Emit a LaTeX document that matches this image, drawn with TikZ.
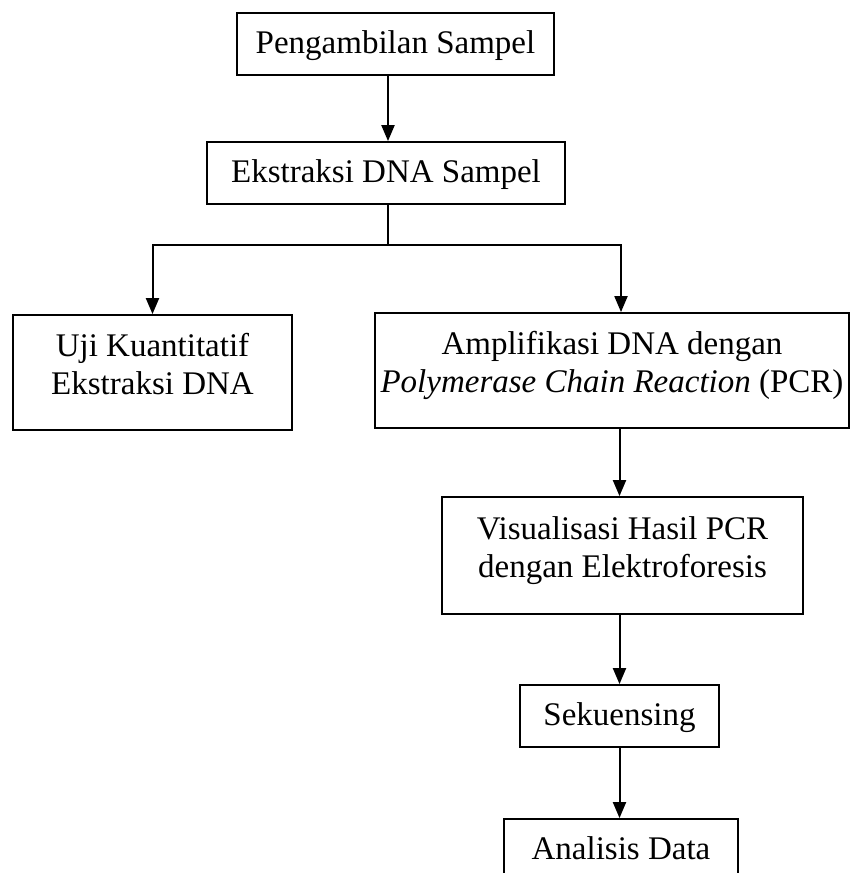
\documentclass[tikz,border=0pt]{standalone}
\usepackage{fontspec}
\setmainfont{Liberation Serif}
\usetikzlibrary{arrows.meta}

\begin{document}
\begin{tikzpicture}[x=1pt,y=-1pt,>={Triangle[length=16pt,width=13pt]},
		every node/.style={font=\fontsize{33pt}{38pt}\selectfont},
		box/.style={draw,line width=1.8pt,align=center,inner sep=0pt,minimum height=62pt,text height=25pt,text depth=6pt},
		tallbox/.style={draw,line width=1.8pt,align=center,inner sep=0pt,minimum height=115pt,text depth=17pt},
		link/.style={->,line width=2pt}]

		\clip (0,0) rectangle (852,873);

		\node (rect) at (395.5,44) [box,minimum width=317pt] (Sampel) {Pengambilan Sampel};
		\node (rect) at (386,173) [box,minimum width=358pt] (Ekstraksi) {Ekstraksi DNA Sampel};
		\node (rect) at (152.5,372.5) [tallbox,minimum width=279pt] (Uji) {Uji Kuantitatif\\Ekstraksi DNA};
		\node (rect) at (612,370.5) [tallbox,minimum width=474pt] (Amplifikasi) {Amplifikasi DNA dengan\\\textit{Polymerase Chain Reaction} (PCR)};
		\node (rect) at (622.5,555.5) [tallbox,minimum width=361pt,minimum height=117pt] (Visualisasi) {Visualisasi Hasil PCR\\dengan Elektroforesis};
		\node (rect) at (619.5,716) [box,minimum width=199pt] (Sekuensing) {Sekuensing};
		\node (rect) at (621,850) [box,minimum width=234pt] (Analisis) {Analisis Data};

		\coordinate (Split) at (388,245);

		\draw[link] (Sampel.south -| Split) -- (Ekstraksi.north -| Split);
		\draw[link,-] (Ekstraksi.south -| Split) -- (Split);
		\draw[link] (Split) -| (Uji.north);
		\draw[link] (Split) -| ([xshift=9pt]Amplifikasi.north);
		\draw[link] (Amplifikasi.south -| Sekuensing.north) -- (Visualisasi.north -| Sekuensing.north);
		\draw[link] (Visualisasi.south -| Sekuensing.north) -- (Sekuensing.north);
		\draw[link] (Sekuensing.south) -- (Sekuensing.south |- Analisis.north);
	\end{tikzpicture}
\end{document}
